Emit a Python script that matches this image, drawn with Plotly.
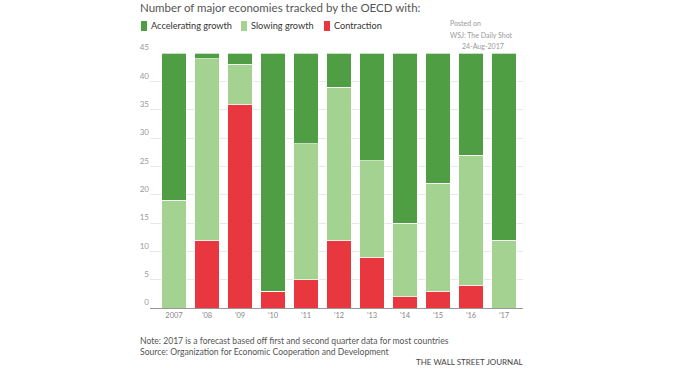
import plotly.graph_objects as go

years = ["2007", "'08", "'09", "'10", "'11", "'12", "'13", "'14", "'15", "'16", "'17"]
contraction = [0, 12, 36, 3, 5, 12, 9, 2, 3, 4, 0]
slowing = [19, 32, 7, 0, 24, 27, 17, 13, 19, 23, 12]
accelerating = [26, 1, 2, 42, 16, 6, 19, 30, 23, 18, 33]

C_ACC = "#4f9e43"
C_SLOW = "#a3d291"
C_CON = "#e8373f"

FONT = "Lato"

# plot area geometry (pixels)
PL, PR, PT, PB = 150, 523, 53, 308
W, H = 700, 368


def px(x):
    return (x - PL) / (PR - PL)


def py(y):
    return (PB - y) / (PB - PT)


fig = go.Figure()
for name, vals, col in [("Contraction", contraction, C_CON),
                        ("Slowing growth", slowing, C_SLOW),
                        ("Accelerating growth", accelerating, C_ACC)]:
    fig.add_trace(go.Bar(
        x=list(range(len(years))), y=vals, name=name,
        marker=dict(color=col, line=dict(color="rgba(255,255,255,0.85)", width=0.8)),
        showlegend=False,
    ))

fig.update_layout(
    width=W, height=H,
    barmode="stack", bargap=0.27,
    margin=dict(l=PL, r=W - PR, t=PT, b=H - PB),
    paper_bgcolor="white", plot_bgcolor="white",
    font=dict(family=FONT, color="#555"),
    xaxis=dict(
        range=[-0.727, 10.576],
        tickmode="array", tickvals=list(range(len(years))), ticktext=years,
        showline=True, linecolor="#999", linewidth=1,
        showgrid=False, ticks="", tickfont=dict(size=7.5, color="#888"),
    ),
    yaxis=dict(
        range=[0, 45], dtick=5, showgrid=True, gridcolor="#e8e8e8", gridwidth=1,
        zeroline=False, ticks="", ticklabelposition="outside top",
        tickfont=dict(size=8, color="#999"),
    ),
)

ann = []
ann.append(dict(x=px(138), y=py(8), xref="paper", yref="paper", xanchor="left", yanchor="middle",
                text="Number of major economies tracked by the OECD with:", showarrow=False,
                font=dict(size=11.5, color="#555", family=FONT)))

legend_items = [("Accelerating growth", C_ACC, 141), ("Slowing growth", C_SLOW, 241), ("Contraction", C_CON, 324)]
shapes = []
for label, col, x0 in legend_items:
    shapes.append(dict(type="rect", xref="paper", yref="paper",
                       x0=px(x0), x1=px(x0 + 6), y0=py(31), y1=py(21),
                       fillcolor=col, line=dict(width=0)))
    ann.append(dict(x=px(x0 + 8), y=py(26), xref="paper", yref="paper", xanchor="left", yanchor="middle",
                    text=label, showarrow=False, font=dict(size=9.2, color="#333", family=FONT)))

small = dict(size=7, color="#999", family=FONT)
ann.append(dict(x=px(448), y=py(23), xref="paper", yref="paper", xanchor="left", yanchor="middle",
                text="Posted on", showarrow=False, font=small))
ann.append(dict(x=px(448), y=py(35), xref="paper", yref="paper", xanchor="left", yanchor="middle",
                text="WSJ: The Daily Shot", showarrow=False, font=small))
ann.append(dict(x=px(506), y=py(46), xref="paper", yref="paper", xanchor="right", yanchor="middle",
                text="24-Aug-2017", showarrow=False, font=small))

ann.append(dict(x=px(138), y=py(341), xref="paper", yref="paper", xanchor="left", yanchor="middle",
                text="Note: 2017 is a forecast based off first and second quarter data for most countries",
                showarrow=False, font=dict(size=8.6, color="#555", family=FONT)))
ann.append(dict(x=px(138), y=py(352), xref="paper", yref="paper", xanchor="left", yanchor="middle",
                text="Source: Organization for Economic Cooperation and Development",
                showarrow=False, font=dict(size=8.6, color="#555", family=FONT)))
ann.append(dict(x=px(525), y=py(362), xref="paper", yref="paper", xanchor="right", yanchor="middle",
                text="THE WALL STREET JOURNAL",
                showarrow=False, font=dict(size=8, color="#444", family=FONT)))

fig.update_layout(annotations=ann, shapes=shapes)
fig.write_html("out.html", config={"displayModeBar": False},
               post_script="document.body.style.margin='0';document.body.style.overflow='hidden';")
